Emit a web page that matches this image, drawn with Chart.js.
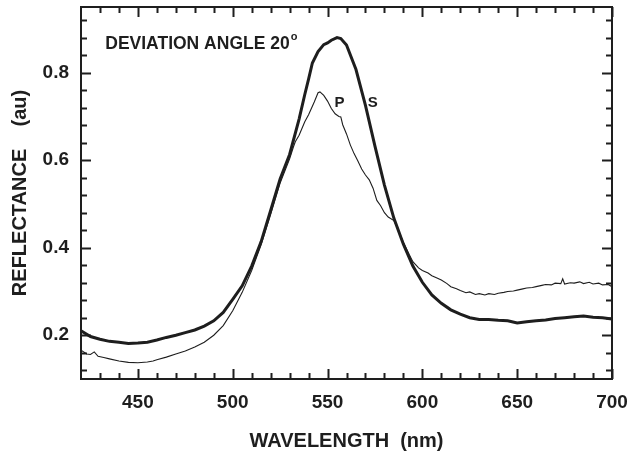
<!DOCTYPE html>
<html><head><meta charset="utf-8">
<script src="https://cdn.jsdelivr.net/npm/chart.js@4"></script>
<style>html,body{margin:0;padding:0;background:#fff}#wrap{width:627px;height:453px}</style>
</head><body><div id="wrap"><canvas id="c" width="627" height="453"></canvas></div>
<script>
// S polarisation (thick curve)
const sWavelength = [420,425,430,435,440,445,450,455,460,465,470,475,480,485,490,495,500,505,510,515,520,525,530,535,538,540,542,545,548,550,552,555,557,560,565,570,575,580,585,590,595,600,605,610,615,620,625,630,635,640,645,650,655,660,665,670,675,680,685,690,695,700];
const sReflectance = [0.210,0.197,0.191,0.186,0.184,0.181,0.182,0.184,0.189,0.195,0.200,0.206,0.212,0.221,0.233,0.252,0.282,0.313,0.358,0.414,0.485,0.557,0.613,0.694,0.750,0.785,0.822,0.848,0.864,0.868,0.874,0.880,0.878,0.863,0.807,0.725,0.632,0.543,0.467,0.408,0.358,0.321,0.292,0.273,0.258,0.248,0.240,0.236,0.236,0.234,0.233,0.228,0.231,0.233,0.235,0.238,0.240,0.242,0.244,0.241,0.240,0.237];
// P polarisation (thin curve)
const pWavelength = [420,423,425,427,429,432,435,440,445,450,455,458,460,465,470,475,480,485,490,495,500,505,510,515,520,525,530,532,533,535,538,540,543,545,546,548,550,552,554,556,557,558,560,562,564,566,568,570,572,574,576,578,580,582,585,587,590,593,595,598,600,603,605,608,610,613,615,618,620,623,625,628,630,633,635,638,640,643,645,648,650,653,655,658,660,663,665,668,670,673,674,675,678,680,683,685,688,690,693,695,698,700];
const pReflectance = [0.166,0.157,0.156,0.162,0.152,0.149,0.146,0.141,0.138,0.137,0.139,0.141,0.144,0.150,0.157,0.164,0.173,0.184,0.200,0.222,0.256,0.298,0.348,0.407,0.476,0.548,0.603,0.630,0.642,0.657,0.688,0.704,0.733,0.754,0.756,0.748,0.735,0.718,0.706,0.700,0.699,0.681,0.660,0.635,0.615,0.598,0.580,0.566,0.555,0.536,0.508,0.496,0.480,0.470,0.462,0.443,0.412,0.385,0.368,0.354,0.348,0.342,0.336,0.330,0.326,0.318,0.311,0.306,0.302,0.297,0.299,0.293,0.295,0.292,0.295,0.293,0.296,0.298,0.300,0.301,0.303,0.306,0.308,0.309,0.311,0.314,0.316,0.315,0.319,0.318,0.329,0.317,0.320,0.319,0.322,0.318,0.321,0.317,0.319,0.315,0.316,0.311];

const xTickLabels = [450,500,550,600,650,700];
const xMinorTicks = [430,440,460,470,480,490,510,520,530,540,560,570,580,590,610,620,630,640,660,670,680,690];
const yTickLabels = [0.2,0.4,0.6,0.8];
const yMinorTicks = [0.12,0.16,0.24,0.28,0.32,0.36,0.44,0.48,0.52,0.56,0.64,0.68,0.72,0.76,0.84,0.88,0.92];

const INK = '#1e1e1e';
const FONT = "'Liberation Sans', Arial, Helvetica, sans-serif";

const toXY = (xs, ys) => xs.map((x, i) => ({x, y: ys[i]}));

const framePlugin = {
  id: 'frame',
  afterDatasetsDraw(chart) {
    const {ctx, chartArea: a, scales: {x, y}} = chart;
    ctx.save();
    ctx.strokeStyle = INK;
    ctx.lineWidth = 2;
    ctx.strokeRect(a.left, a.top, a.right - a.left, a.bottom - a.top);
    ctx.beginPath();
    const vt = (v, len) => {
      const px = Math.round(x.getPixelForValue(v)) + 0.5;
      ctx.moveTo(px, a.bottom); ctx.lineTo(px, a.bottom - len);
      ctx.moveTo(px, a.top); ctx.lineTo(px, a.top + len);
    };
    const ht = (v, len) => {
      const py = Math.round(y.getPixelForValue(v)) + 0.5;
      ctx.moveTo(a.left, py); ctx.lineTo(a.left + len, py);
      ctx.moveTo(a.right, py); ctx.lineTo(a.right - len, py);
    };
    xTickLabels.forEach(v => vt(v, 10));
    xMinorTicks.forEach(v => vt(v, 6));
    yTickLabels.forEach(v => ht(v, 10));
    yMinorTicks.forEach(v => ht(v, 6));
    ctx.stroke();
    ctx.restore();
  }
};

const labelPlugin = {
  id: 'labels',
  afterDatasetsDraw(chart) {
    const {ctx, scales: {x, y}} = chart;
    ctx.save();
    ctx.fillStyle = INK;
    ctx.textBaseline = 'alphabetic';
    ctx.font = "bold 17.5px " + FONT;
    ctx.textAlign = 'left';
    const ax = x.getPixelForValue(432.8), ay = y.getPixelForValue(0.853);
    const main = 'DEVIATION ANGLE 20';
    ctx.fillText(main, ax, ay);
    const w = ctx.measureText(main).width;
    ctx.font = "bold 11px " + FONT;
    ctx.fillText('o', ax + w + 1, ay - 9);
    ctx.font = "bold 15px " + FONT;
    ctx.textAlign = 'center';
    ctx.fillText('P', x.getPixelForValue(556.3), y.getPixelForValue(0.721));
    ctx.fillText('S', x.getPixelForValue(573.8), y.getPixelForValue(0.721));
    ctx.restore();
  }
};

new Chart(document.getElementById('c'), {
  type: 'line',
  data: {
    datasets: [
      {label: 'S', data: toXY(sWavelength, sReflectance), borderColor: INK, borderWidth: 3, pointRadius: 0, tension: 0, fill: false},
      {label: 'P', data: toXY(pWavelength, pReflectance), borderColor: INK, borderWidth: 1.1, pointRadius: 0, tension: 0, fill: false}
    ]
  },
  options: {
    responsive: false,
    animation: false,
    devicePixelRatio: 1,
    layout: {padding: {left: 0, right: 15, top: 7, bottom: 0}},
    plugins: {legend: {display: false}, tooltip: {enabled: false}},
    scales: {
      x: {
        type: 'linear', min: 420, max: 700,
        grid: {display: false, drawTicks: false},
        border: {display: false},
        afterBuildTicks: s => { s.ticks = xTickLabels.map(v => ({value: v})); },
        afterFit: s => { s.height = 74; s.paddingLeft = 0; s.paddingRight = 0; },
        ticks: {padding: 12, color: INK, font: {family: FONT, size: 19, weight: 'bold'}, maxRotation: 0, autoSkip: false},
        title: {display: true, text: 'WAVELENGTH  (nm)', color: INK, font: {family: FONT, size: 20, weight: 'bold'}, padding: {top: 0, bottom: 0}}
      },
      y: {
        type: 'linear', min: 0.1, max: 0.95,
        grid: {display: false, drawTicks: false},
        border: {display: false},
        afterBuildTicks: s => { s.ticks = yTickLabels.map(v => ({value: v})); },
        afterFit: s => { s.width = 81; s.paddingTop = 0; s.paddingBottom = 0; },
        ticks: {padding: 12, color: INK, font: {family: FONT, size: 19, weight: 'bold'}, callback: v => v.toFixed(1)},
        title: {display: true, text: 'REFLECTANCE    (au)', color: INK, font: {family: FONT, size: 20, weight: 'bold'}, padding: {top: 8, bottom: 0}}
      }
    }
  },
  plugins: [framePlugin, labelPlugin]
});
</script></body></html>
